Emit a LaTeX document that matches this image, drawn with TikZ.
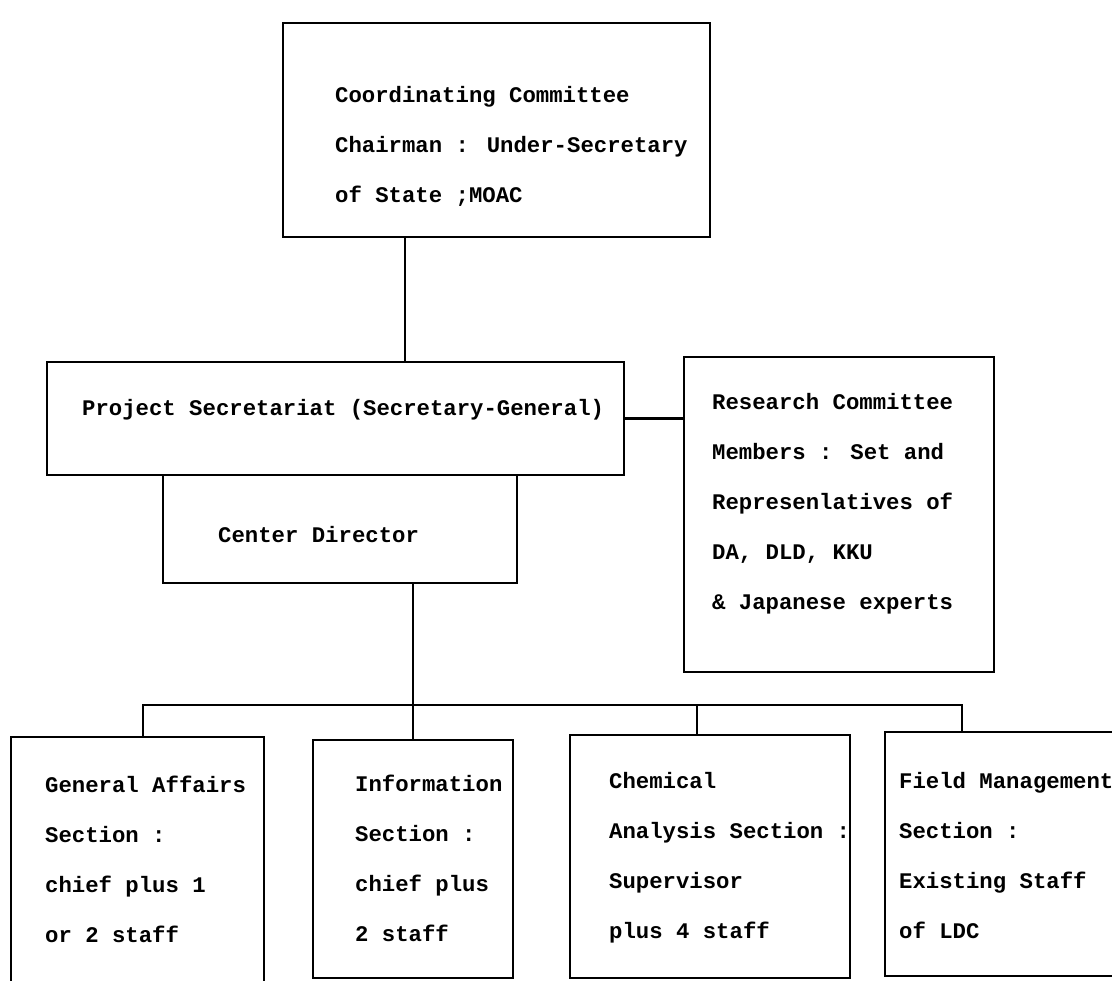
\documentclass[tikz,border=0pt]{standalone}
\usepackage{fontspec}
\newfontfamily\typewriter{Liberation Mono}
\begin{document}
\begin{tikzpicture}[x=1pt,y=-1pt,
  box/.style={draw, line width=2.6pt, rectangle, inner sep=0pt},
  % multi-line texts are anchored at the baseline of their last line
  txt/.style={inner sep=0pt, anchor=base west, align=left,
    font=\typewriter\bfseries\fontsize{22.3}{50}\selectfont},
  link/.style={line width=2.6pt}]
\useasboundingbox (0,0) rectangle (1112,981);

% boxes
\node[box, minimum width=427pt, minimum height=214pt] (coord) at (496.5,130) {};
\node[box, minimum width=577pt, minimum height=113pt] (sec) at (335.5,418.5) {};
\node[box, minimum width=354pt, minimum height=108pt] (cd) at (340,529) {};
\node[box, minimum width=310pt, minimum height=315pt] (res) at (839,514.5) {};
\node[box, minimum width=253pt, minimum height=253pt] (ga) at (137.5,863.5) {};
\node[box, minimum width=200pt, minimum height=238pt] (info) at (413,859) {};
\node[box, minimum width=280pt, minimum height=243pt] (chem) at (710,856.5) {};
\node[box, minimum width=233pt, minimum height=244pt] (field) at (1001.5,854) {};

% texts
\node[txt] (coordtxt) at (335,203) {Coordinating Committee\\Chairman : Under-Secretary\\of State ;MOAC};
\node[txt] (sectxt) at (82,416) {Project Secretariat (Secretary-General)};
\node[txt] (cdtxt) at (218,543) {Center Director};
\node[txt] (restxt) at (712,609) {Research Committee\\Members : Set and\\Represenlatives of\\DA, DLD, KKU\\\& Japanese experts};
\node[txt] (gatxt) at (45,942) {General Affairs\\Section :\\chief plus 1\\or 2 staff};
\node[txt] (infotxt) at (355,941) {Information\\Section :\\chief plus\\2 staff};
\node[txt] (chemtxt) at (609,938) {Chemical\\Analysis Section :\\Supervisor\\plus 4 staff};
\node[txt] (fieldtxt) at (899,938) {Field Management\\Section :\\Existing Staff\\of LDC};

% drop points of the connectors
\coordinate (topdrop) at (405,0);
\coordinate (busL) at (143,705);
\coordinate (busC) at (697,705);
\coordinate (busR) at (962,705);

% connectors
\draw[link] (topdrop |- coord.south) -- (topdrop |- sec.north);
\draw[link] (sec.east) -- (sec.east -| res.west);
\draw[link] (cd.south -| info.north) -- (info.north);
\draw[link] (busL |- ga.north) -- (busL) -- (busR) -- (busR |- field.north);
\draw[link] (busC) -- (busC |- chem.north);
\end{tikzpicture}
\end{document}
